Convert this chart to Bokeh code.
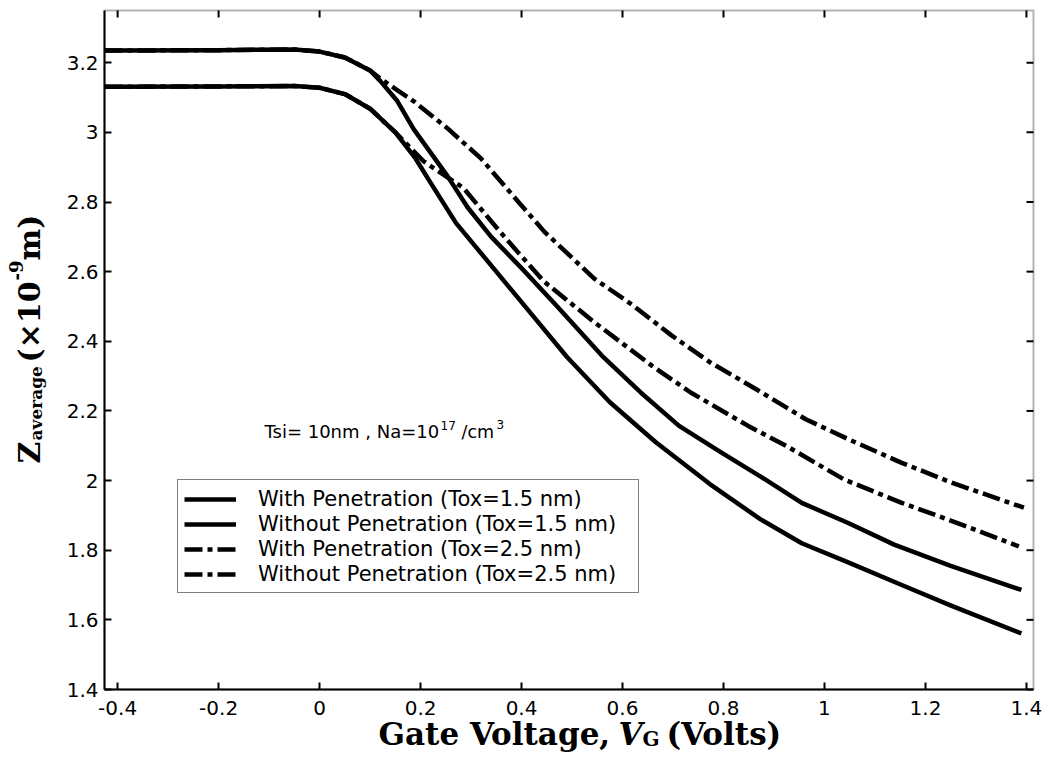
import math
from bokeh.plotting import figure
from bokeh.models import (Label, Legend, LegendItem, LinearAxis, FixedTicker,
                          CustomJSTickFormatter, Range1d, BoxAnnotation)
from bokeh.embed import file_html
from bokeh.resources import INLINE

# ---------------- data ----------------
# With Penetration, Tox = 1.5 nm (lower solid)
vg_wp15 = [-0.426, -0.2, -0.05, 0.0, 0.05, 0.10, 0.15, 0.19, 0.22, 0.27, 0.35, 0.43,
           0.49, 0.575, 0.666, 0.773, 0.872, 0.955, 1.047, 1.153, 1.252, 1.39]
z_wp15 = [3.131, 3.132, 3.133, 3.128, 3.11, 3.068, 3.00, 2.925, 2.855, 2.74, 2.60, 2.46,
          2.355, 2.225, 2.11, 1.99, 1.89, 1.82, 1.765, 1.70, 1.64, 1.561]

# Without Penetration, Tox = 1.5 nm (upper solid)
vg_wo15 = [-0.426, -0.2, -0.05, 0.0, 0.05, 0.10, 0.12, 0.154, 0.186, 0.253, 0.293, 0.34,
           0.40, 0.468, 0.559, 0.636, 0.712, 0.796, 0.872, 0.955, 1.047, 1.138, 1.25, 1.39]
z_wo15 = [3.235, 3.236, 3.238, 3.232, 3.215, 3.178, 3.148, 3.09, 3.01, 2.875, 2.785, 2.70,
          2.61, 2.504, 2.359, 2.253, 2.157, 2.08, 2.013, 1.936, 1.878, 1.816, 1.755, 1.686]

# With Penetration, Tox = 2.5 nm (lower dash-dot)
vg_wp25 = [-0.426, -0.2, -0.05, 0.0, 0.05, 0.10, 0.15, 0.206, 0.285, 0.352, 0.392, 0.445,
           0.544, 0.658, 0.735, 0.849, 0.925, 1.039, 1.153, 1.245, 1.385]
z_wp25 = [3.131, 3.132, 3.133, 3.128, 3.11, 3.068, 3.00, 2.917, 2.84, 2.724, 2.657, 2.571,
          2.455, 2.33, 2.253, 2.157, 2.099, 2.003, 1.936, 1.888, 1.811]

# Without Penetration, Tox = 2.5 nm (upper dash-dot)
vg_wo25 = [-0.426, -0.2, -0.05, 0.0, 0.05, 0.10, 0.12, 0.15, 0.186, 0.253, 0.319, 0.385,
           0.445, 0.544, 0.62, 0.697, 0.773, 0.864, 0.963, 1.047, 1.153, 1.252, 1.395]
z_wo25 = [3.235, 3.236, 3.238, 3.232, 3.215, 3.178, 3.155, 3.125, 3.09, 3.012, 2.926, 2.815,
          2.715, 2.58, 2.504, 2.417, 2.34, 2.263, 2.176, 2.119, 2.051, 1.994, 1.922]

x_ticks = [-0.4, -0.2, 0.0, 0.2, 0.4, 0.6, 0.8, 1.0, 1.2, 1.4]
y_ticks = [1.4, 1.6, 1.8, 2.0, 2.2, 2.4, 2.6, 2.8, 3.0, 3.2]

labels = ["With Penetration (Tox=1.5 nm)",
          "Without Penetration (Tox=1.5 nm)",
          "With Penetration (Tox=2.5 nm)",
          "Without Penetration (Tox=2.5 nm)"]

# axes limits
x_lo, x_hi = -0.426, 1.414
y_lo, y_hi = 1.4, 3.35

# ---------------- layout (pixels) ----------------
W, H = 1057, 765
BOX_L, BOX_R, BOX_T, BOX_B = 104, 1033, 10, 689
sx = (x_hi - x_lo) / (BOX_R - BOX_L)
sy = (y_hi - y_lo) / (BOX_B - BOX_T)

p = figure(width=W, height=H, output_backend="svg", toolbar_location=None,
           x_range=Range1d(x_lo - BOX_L * sx, x_hi + (W - BOX_R) * sx),
           y_range=Range1d(y_lo - (H - BOX_B) * sy, y_hi + BOX_T * sy),
           x_axis_location=None, y_axis_location=None,
           min_border_left=0, min_border_right=0, min_border_top=0,
           min_border_bottom=0)
p.title.visible = False
p.background_fill_color = "white"
p.border_fill_color = "white"
p.outline_line_color = None
p.xgrid.visible = False
p.ygrid.visible = False

fmt = CustomJSTickFormatter(code="return (Math.round(tick*10)/10).toString();")

def style_axis(ax, ticks, standoff):
    ax.ticker = FixedTicker(ticks=ticks)
    ax.formatter = fmt
    ax.major_tick_in = 7
    ax.major_tick_out = 0
    ax.minor_tick_line_color = None
    ax.major_tick_line_width = 2
    ax.major_tick_line_color = "black"
    ax.axis_line_width = 2
    ax.axis_line_color = "black"
    ax.major_label_standoff = standoff
    ax.major_label_text_font = "DejaVu Sans"
    ax.major_label_text_font_size = "20px"
    ax.major_label_text_color = "black"

xax = LinearAxis(fixed_location=y_lo, bounds=(x_lo, x_hi))
style_axis(xax, x_ticks, 11)
p.add_layout(xax, "below")
yax = LinearAxis(fixed_location=x_lo, bounds=(y_lo, y_hi))
style_axis(yax, y_ticks, 6)
p.add_layout(yax, "left")

# box around the plot area and inward ticks on top / right
p.add_layout(BoxAnnotation(left=x_lo, right=x_hi, bottom=y_lo, top=y_hi,
                           fill_alpha=0, line_color="black", line_width=2))
p.ray(x=x_ticks, y=[y_hi] * len(x_ticks), length=7, length_units="screen",
      angle=-math.pi / 2, line_color="black", line_width=2)
p.ray(x=[x_hi] * len(y_ticks), y=y_ticks, length=7, length_units="screen",
      angle=math.pi, line_color="black", line_width=2)

# ---------------- curves ----------------
r1 = p.line(vg_wp15, z_wp15, line_color="black", line_width=4.5, line_join="round")
r2 = p.line(vg_wo15, z_wo15, line_color="black", line_width=4.5, line_join="round")
r3 = p.line(vg_wp25, z_wp25, line_color="black", line_width=4.5, line_dash="18 5 5 5")
r4 = p.line(vg_wo25, z_wo25, line_color="black", line_width=4.5, line_dash="18 5 5 5")

legend = Legend(items=[LegendItem(label=labels[0], renderers=[r1]),
                       LegendItem(label=labels[1], renderers=[r2]),
                       LegendItem(label=labels[2], renderers=[r3]),
                       LegendItem(label=labels[3], renderers=[r4])],
                location=(177, H - 593), orientation="vertical",
                label_text_font="DejaVu Sans", label_text_font_size="21px",
                label_text_color="black",
                glyph_width=52, glyph_height=20, label_height=25, label_width=374,
                spacing=0, padding=6, margin=0, label_standoff=22,
                border_line_color="black", border_line_width=1,
                background_fill_color="white", background_fill_alpha=1.0)
p.add_layout(legend)

# ---------------- texts ----------------
def lab(x, y, text, font, size, style="normal", angle=0.0):
    """x, y: pixel position from the page's left / top edge."""
    p.add_layout(Label(x=x, y=H - y, x_units="screen", y_units="screen", text=text,
                       text_font=font, text_font_size=size, text_font_style=style,
                       text_color="black", text_align="left",
                       text_baseline="alphabetic", angle=angle))

sans = "DejaVu Sans"
serif = "DejaVu Serif"
lab(264, 431, "Tsi= 10nm , Na=10", sans, "18px")
lab(440, 425, "17", sans, "12px")
lab(461, 431, "/cm", sans, "17.5px")
lab(496, 424, "3", sans, "12px")

# x axis title: Gate Voltage, V_G (Volts)
lab(378, 733, "Gate Voltage,", serif, "31px", "bold")
lab(618, 733, "V", serif, "31px", "bold italic")
lab(642, 738, "G", serif, "20px", "bold")
lab(666, 733, "(Volts)", serif, "31px", "bold")

# y axis title: Z_average (x10^-9 m), reading bottom to top
A = math.pi / 2
lab(29, 463, "Z", serif, "30px", "bold", A)
lab(35, 440, "average", serif, "17px", "bold", A)
lab(29, 362, "(\u00d710", serif, "30px", "bold", A)
lab(15, 280, "-9", serif, "18px", "bold", A)
lab(29, 260, " m)", serif, "30px", "bold", A)

open("out.html", "w").write(file_html(p, INLINE))
